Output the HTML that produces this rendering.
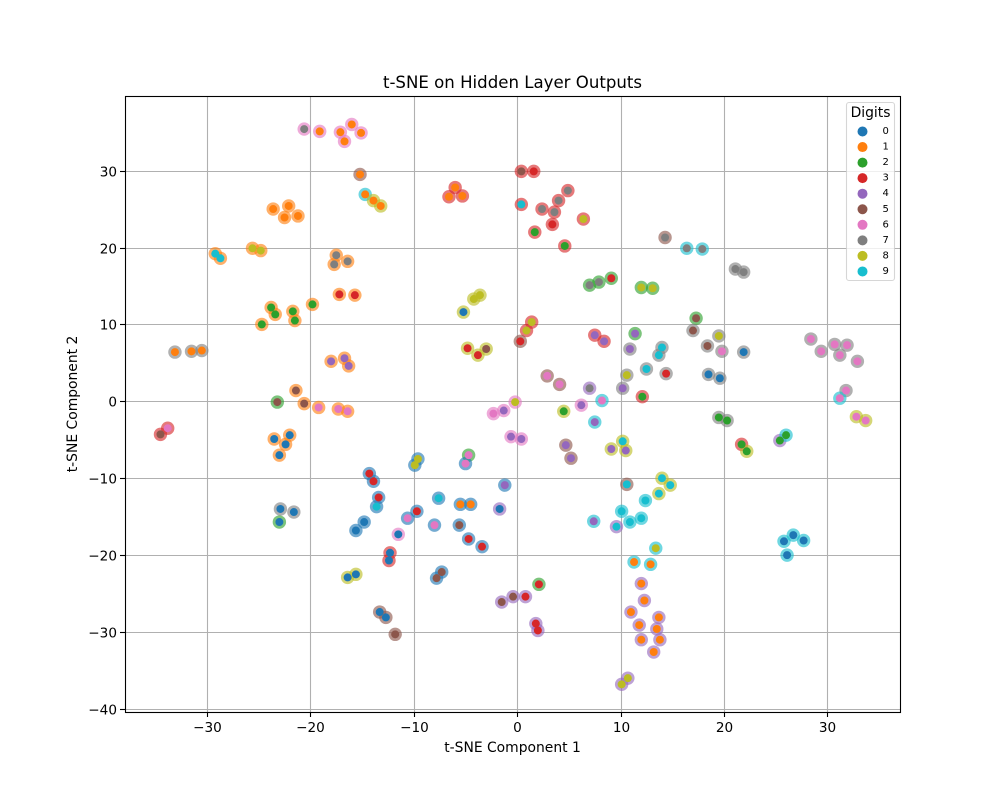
<!DOCTYPE html>
<html lang="en">
<head>
<meta charset="utf-8">
<title>t-SNE on Hidden Layer Outputs</title>
<style>
html,body{margin:0;padding:0;background:#fff;}
svg{display:block;font-family:"DejaVu Sans","Liberation Sans",sans-serif;}
</style>
</head>
<body>
<svg id="chart" xmlns="http://www.w3.org/2000/svg" width="1000" height="800" viewBox="0 0 1000 800">
  <rect x="0" y="0" width="1000" height="800" fill="#ffffff"/>
  <text x="512.5" y="88" font-size="16.6" text-anchor="middle" fill="#000">t-SNE on Hidden Layer Outputs</text>
  <text x="512.5" y="752" font-size="13.89" text-anchor="middle" fill="#000">t-SNE Component 1</text>
  <text x="0" y="0" font-size="13.89" text-anchor="middle" fill="#000" transform="translate(77,404) rotate(-90)">t-SNE Component 2</text>
  <g id="grid"></g>
  <g id="rings"></g>
  <g id="dots"></g>
  <g id="ticks"></g>
  <rect x="125.5" y="96.5" width="775" height="616" fill="none" stroke="#000" stroke-width="1.1"/>
  <g id="legend">
    <rect x="846.5" y="102.5" width="48" height="178" rx="2.5" fill="#ffffff" fill-opacity="0.8" stroke="#cccccc" stroke-opacity="0.8" stroke-width="1.1"/>
    <text x="870.5" y="117" font-size="13.89" text-anchor="middle" fill="#000">Digits</text>
  </g>
</svg>
<script>
const digitColors = ['#1f77b4','#ff7f0e','#2ca02c','#d62728','#9467bd','#8c564b','#e377c2','#7f7f7f','#bcbd22','#17becf'];
const digitLabels = ['0','1','2','3','4','5','6','7','8','9'];
const xTickValues = [-30,-20,-10,0,10,20,30];
const yTickValues = [-40,-30,-20,-10,0,10,20,30];
const tsneX = [
-20.6,-19.1,-17.1,-16.0,-15.1,-16.7,-15.2,-14.7,-13.9,-13.2,
-23.6,-22.1,-22.5,-21.2,-29.2,-28.7,-25.6,-24.8,-17.5,-17.7,
-16.4,-17.2,-15.7,-19.8,-23.8,-23.4,-21.7,-21.5,-24.7,-33.1,
-31.5,-30.5,-18.0,-16.7,-16.3,-21.4,-23.2,-20.6,-19.2,-17.3,
-16.4,-33.8,-34.5,-23.5,-22.0,-22.4,-23.0,-14.3,-13.9,-13.4,
-13.6,-22.9,-21.6,-23.0,-14.8,-15.6,-15.6,-16.4,-13.3,-12.7,
-11.8,-12.3,-12.4,-11.5,-10.6,-9.7,-8.0,-5.6,-4.7,-3.4,
-7.6,-5.5,-4.5,-1.7,-1.2,-7.3,-7.8,2.1,0.8,-0.4,
-1.5,1.8,2.0,10.7,10.1,7.4,9.6,10.1,10.9,12.0,
11.3,12.9,13.4,12.4,13.7,14.0,14.8,12.0,12.3,11.0,
11.8,12.0,13.7,13.5,13.8,13.2,25.8,26.7,27.7,26.1,
-6.0,-6.6,-5.3,0.4,1.6,0.4,4.9,4.0,2.4,3.6,
3.4,1.7,6.4,4.6,7.0,7.9,9.1,12.0,13.1,-4.2,
-3.6,-5.2,1.4,0.9,0.3,7.5,8.4,11.4,10.9,-4.8,
-3.8,-3.0,2.9,4.1,7.0,10.2,10.6,12.1,8.2,6.2,
4.5,-0.2,-1.3,-2.3,-0.6,0.4,7.5,4.7,5.2,10.2,
9.1,10.5,10.6,-9.6,-9.9,-4.7,-5.0,14.3,16.4,17.9,
21.1,21.9,17.3,17.0,18.4,19.5,19.8,21.9,14.0,13.7,
12.5,14.4,18.5,19.6,19.5,20.3,21.7,22.2,25.4,26.0,
28.4,29.4,30.7,31.9,31.2,32.9,31.8,31.2,32.8,33.7
];
const tsneY = [
35.4,35.1,35.0,36.0,34.9,33.8,29.5,26.9,26.1,25.4,
25.0,25.4,23.9,24.1,19.2,18.6,19.9,19.6,19.0,17.8,
18.2,13.9,13.8,12.6,12.2,11.3,11.7,10.5,10.0,6.4,
6.5,6.6,5.2,5.6,4.6,1.4,-0.1,-0.3,-0.8,-1.0,
-1.3,-3.5,-4.3,-4.9,-4.4,-5.6,-7.0,-9.4,-10.4,-12.5,
-13.7,-14.0,-14.4,-15.7,-15.7,-16.8,-22.5,-22.9,-27.4,-28.1,
-30.3,-19.7,-20.7,-17.3,-15.2,-14.3,-16.1,-16.1,-17.9,-18.9,
-12.6,-13.4,-13.4,-14.0,-10.9,-22.2,-23.0,-23.8,-25.4,-25.4,
-26.1,-28.9,-29.8,-36.0,-36.8,-15.6,-16.3,-14.3,-15.7,-15.2,
-20.9,-21.2,-19.1,-12.9,-12.0,-10.0,-10.9,-23.7,-25.9,-27.4,
-29.1,-31.0,-28.1,-29.6,-31.0,-32.6,-18.2,-17.4,-18.1,-20.0,
27.8,26.6,26.7,29.9,29.9,25.6,27.4,26.1,25.0,24.6,
23.0,22.0,23.7,20.2,15.1,15.5,16.0,14.8,14.7,13.3,
13.8,11.6,10.3,9.2,7.8,8.6,7.8,8.8,6.8,6.9,
6.0,6.8,3.3,2.2,1.7,1.7,3.4,0.6,0.1,-0.5,
-1.3,-0.1,-1.2,-1.6,-4.6,-4.9,-2.7,-5.7,-7.4,-5.2,
-6.2,-6.4,-10.8,-7.5,-8.3,-7.0,-8.1,21.3,19.9,19.8,
17.2,16.8,10.8,9.2,7.2,8.5,6.5,6.4,7.0,6.0,
4.2,3.6,3.5,3.0,-2.1,-2.5,-5.6,-6.5,-5.1,-4.4,
8.1,6.5,7.4,7.3,6.0,5.2,1.4,0.4,-2.0,-2.5
];
const ringDigit = [
6,6,6,6,6,6,5,9,8,8,
1,1,1,1,1,1,1,1,1,1,
1,1,1,1,1,1,1,1,1,7,
7,7,1,1,1,1,2,1,1,1,
1,3,3,1,1,1,1,0,0,0,
0,7,7,2,0,0,8,8,5,5,
5,3,3,6,0,0,0,0,0,0,
0,0,0,4,0,0,0,2,4,4,
4,4,4,4,4,9,4,9,9,9,
9,9,9,9,8,8,8,4,4,4,
4,4,4,4,4,4,9,9,9,9,
3,3,3,3,3,3,3,3,3,3,
3,3,3,3,2,2,2,2,2,8,
8,8,3,3,5,3,3,2,7,8,
8,8,5,5,4,7,7,3,9,6,
8,6,6,6,6,6,9,5,5,8,
8,8,5,0,0,2,0,5,9,9,
7,7,2,7,7,7,7,7,7,7,
7,7,7,7,7,7,3,8,4,9,
7,7,7,7,7,7,7,9,8,8
];
const dotDigit = [
7,1,1,1,1,1,1,1,1,1,
1,1,1,1,9,9,8,8,7,7,
7,3,3,2,2,2,2,2,2,1,
1,1,4,4,4,5,5,5,6,6,
6,6,5,0,0,0,0,3,3,3,
9,0,0,0,0,0,0,0,0,0,
5,0,0,0,6,3,6,5,3,3,
9,1,1,0,4,5,5,3,3,5,
5,3,3,8,8,4,9,9,9,9,
1,1,8,9,9,9,9,1,1,1,
1,1,1,1,1,1,0,0,0,0,
1,1,1,5,3,9,7,7,7,7,
3,2,8,2,7,7,3,8,8,8,
8,0,8,8,3,4,4,4,4,3,
3,5,6,6,7,4,8,2,6,4,
2,8,4,6,4,4,4,4,4,9,
4,4,9,8,8,6,6,7,7,7,
7,7,5,5,5,8,6,0,9,9,
9,3,0,0,2,2,2,2,2,2,
6,6,6,6,6,6,6,6,6,6
];

const SVG_NS = 'http://www.w3.org/2000/svg';
const plotLeft = 125, plotRight = 900, plotTop = 96, plotBottom = 712;
const xMin = -37.93, xMax = 37.02, yMin = -40.4, yMax = 39.7;
function scaleX(v){ return plotLeft + (v - xMin) / (xMax - xMin) * (plotRight - plotLeft); }
function scaleY(v){ return plotBottom - (v - yMin) / (yMax - yMin) * (plotBottom - plotTop); }
function snap(v){ return Math.round(v) + 0.5; }
function fmt(v){ return v < 0 ? '\u2212' + Math.abs(v) : String(v); }
function make(tag, attrs, parent){
  const el = document.createElementNS(SVG_NS, tag);
  for (const k in attrs) el.setAttribute(k, attrs[k]);
  parent.appendChild(el);
  return el;
}
const gridG = document.getElementById('grid');
const ticksG = document.getElementById('ticks');
const ringsG = document.getElementById('rings');
const dotsG = document.getElementById('dots');
const legendG = document.getElementById('legend');

xTickValues.forEach(function(v){
  const x = snap(scaleX(v));
  const g = make('line', {x1:x, x2:x, y1:plotTop, y2:plotBottom, stroke:'#b0b0b0', 'stroke-width':1.1}, gridG);
  
  
  const t = make('line', {x1:x, x2:x, y1:plotBottom, y2:plotBottom + 5, stroke:'#000', 'stroke-width':1.1}, ticksG);
  
  
  const l = make('text', {x:x, y:plotBottom + 20, 'font-size':13.6, 'text-anchor':'middle', fill:'#000'}, ticksG);
  
  
  l.textContent = fmt(v);
});
yTickValues.forEach(function(v){
  const y = snap(scaleY(v));
  const g = make('line', {x1:plotLeft, x2:plotRight, y1:y, y2:y, stroke:'#b0b0b0', 'stroke-width':1.1}, gridG);
  
  
  const t = make('line', {x1:plotLeft - 5, x2:plotLeft, y1:y, y2:y, stroke:'#000', 'stroke-width':1.1}, ticksG);
  
  
  const l = make('text', {x:plotLeft - 8, y:y + 5, 'font-size':13.6, 'text-anchor':'end', fill:'#000'}, ticksG);
  
  
  l.textContent = fmt(v);
});
tsneX.forEach(function(xv, i){
  const cx = scaleX(xv), cy = scaleY(tsneY[i]);
  const ring = make('circle', {cx:cx, cy:cy, r:6.7, fill:digitColors[ringDigit[i]], 'fill-opacity':0.62}, ringsG);
  
  
  const dot = make('circle', {cx:cx, cy:cy, r:4, fill:digitColors[dotDigit[i]]}, dotsG);
  
  
});
const legendMarkerX = 862.5, legendTextX = 882.5, legendFirstY = 131.5, legendStep = 15.55;
digitLabels.forEach(function(label, i){
  const y = legendFirstY + i * legendStep;
  const m = make('circle', {cx:legendMarkerX, cy:y, r:5, fill:digitColors[i]}, legendG);
  
  
  const t = make('text', {x:legendTextX, y:y + 2.5, 'font-size':10, fill:'#000'}, legendG);
  
  
  t.textContent = label;
});
</script>
</body>
</html>
